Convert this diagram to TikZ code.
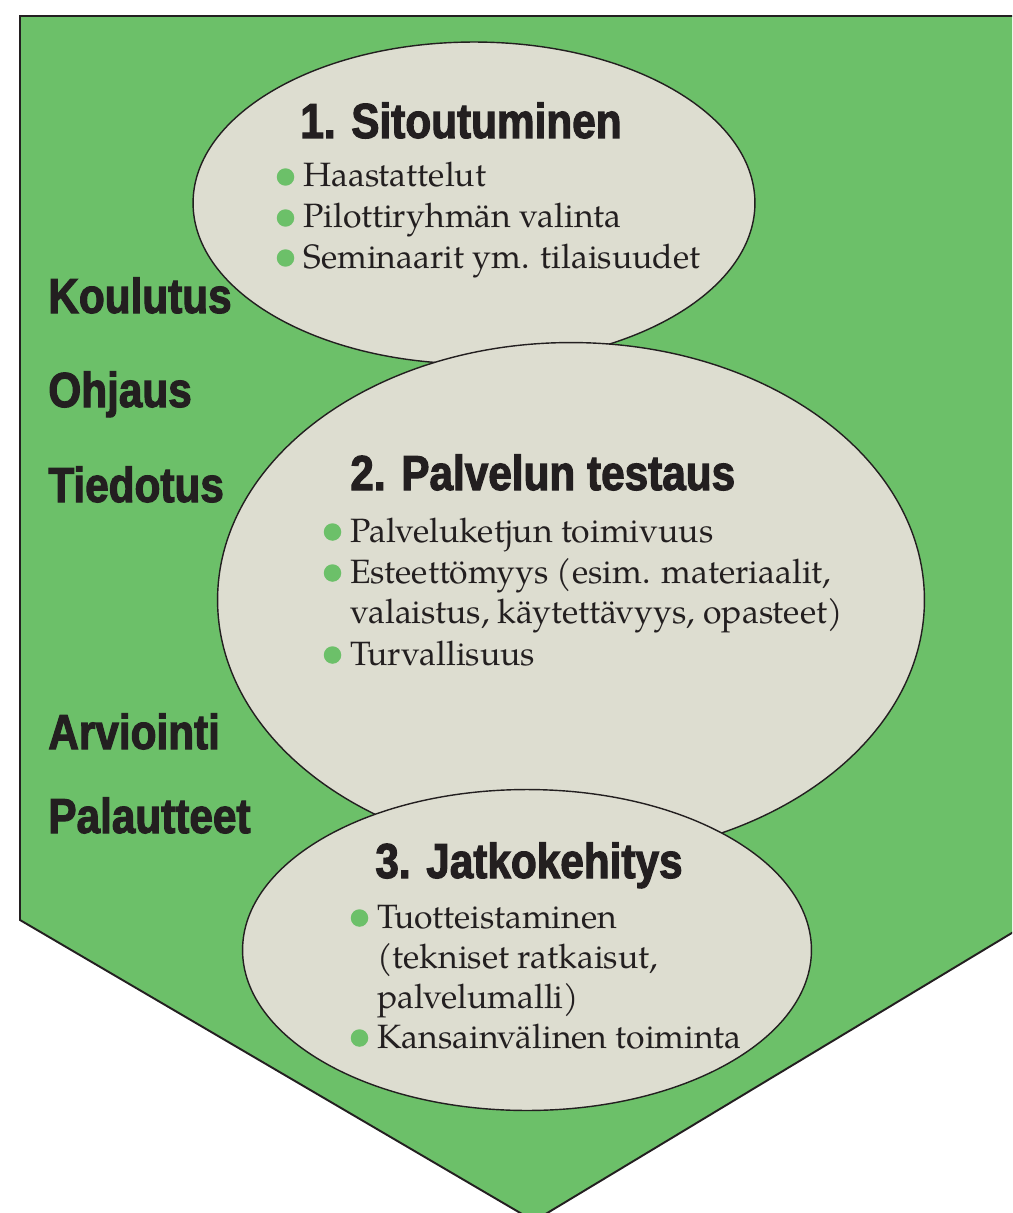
\documentclass[tikz,border=0pt]{standalone}
\usepackage{fontspec}
\usepackage{xcolor}
\usepackage{tikz}
\usetikzlibrary{shapes.geometric}
\newfontfamily\headfont[FakeStretch=0.86, FakeBold=2.2]{Liberation Sans Bold}
\newfontfamily\bodyfont{TeX Gyre Pagella}
\definecolor{leaf}{RGB}{108,192,105}
\definecolor{pale}{RGB}{221,221,208}
\definecolor{ink}{RGB}{35,31,32}

\begin{document}
\begin{tikzpicture}[
  x=0.02cm, y=-0.02cm,
  stage/.style={
    ellipse, draw=ink, fill=pale,
    line width=0.8pt, inner sep=0pt
  },
  sidelbl/.style={anchor=base west, inner sep=0pt, text=ink,
    font=\headfont\fontsize{28}{28}\selectfont},
  stagehead/.style={anchor=base west, inner sep=0pt, text=ink,
    font=\headfont\fontsize{28}{28}\selectfont},
  itemtxt/.style={anchor=base west, inner sep=0pt, text=ink,
    font=\bodyfont\fontsize{19.2}{23}\selectfont},
  bul/.style={circle, fill=leaf, inner sep=0pt, minimum size=0.35cm}
]
  \useasboundingbox (0,0) rectangle (1012,1213);
  \clip (0,0) rectangle (1012,1213);
  % arrow-shaped background
  \draw[fill=leaf, draw=ink, line width=1.1pt]
    (20,16) -- (1040,16) -- (1040,916) -- (534,1221) -- (20,920) -- cycle;

  % the three phases
  \node[stage, minimum width=11.24cm, minimum height=6.44cm] (s1) at (474,203) {};
  \node[stage, minimum width=14.14cm, minimum height=10.3cm] (s2) at (571,600) {};
  \node[stage, minimum width=11.38cm, minimum height=6.42cm] (s3) at (527,950) {};

  % labels on the left
  \node[sidelbl] (koul) at (48,313) {Koulutus};
  \node[sidelbl] (ohj) at (48,407) {Ohjaus};
  \node[sidelbl] (tied) at (48,502) {Tiedotus};
  \node[sidelbl] (arv) at (48,749) {Arviointi};
  \node[sidelbl] (pal) at (48,833) {Palautteet};

  % phase 1
  \node[stagehead] (h1) at (300,138) {1. Sitoutuminen};
  \node[itemtxt] (i11) at (303,187) {Haastattelut};
  \node[itemtxt] (i12) at (303,228) {Pilottiryhmän valinta};
  \node[itemtxt] (i13) at (303,268) {Seminaarit ym. tilaisuudet};

  % phase 2
  \node[stagehead] (h2) at (350,490) {2. Palvelun testaus};
  \node[itemtxt] (i21) at (350,542) {Palveluketjun toimivuus};
  \node[itemtxt] (i22) at (350,583) {Esteettömyys (esim. materiaalit,};
  \node[itemtxt] (i22b) at (350,623) {valaistus, käytettävyys, opasteet)};
  \node[itemtxt] (i23) at (350,665) {Turvallisuus};

  % phase 3
  \node[stagehead] (h3) at (375,878) {3. Jatkokehitys};
  \node[itemtxt] (i31) at (377,928) {Tuotteistaminen};
  \node[itemtxt] (i31b) at (377,968) {(tekniset ratkaisut,};
  \node[itemtxt] (i31c) at (377,1008) {palvelumalli)};
  \node[itemtxt] (i32) at (377,1048) {Kansainvälinen toiminta};

  % bullets
  \foreach \it in {i11,i12,i13,i21,i22,i23,i31,i32} {
    \node[bul] at ([shift={(-17.5,-10)}]\it.base west) {};
  }
\end{tikzpicture}
\end{document}
